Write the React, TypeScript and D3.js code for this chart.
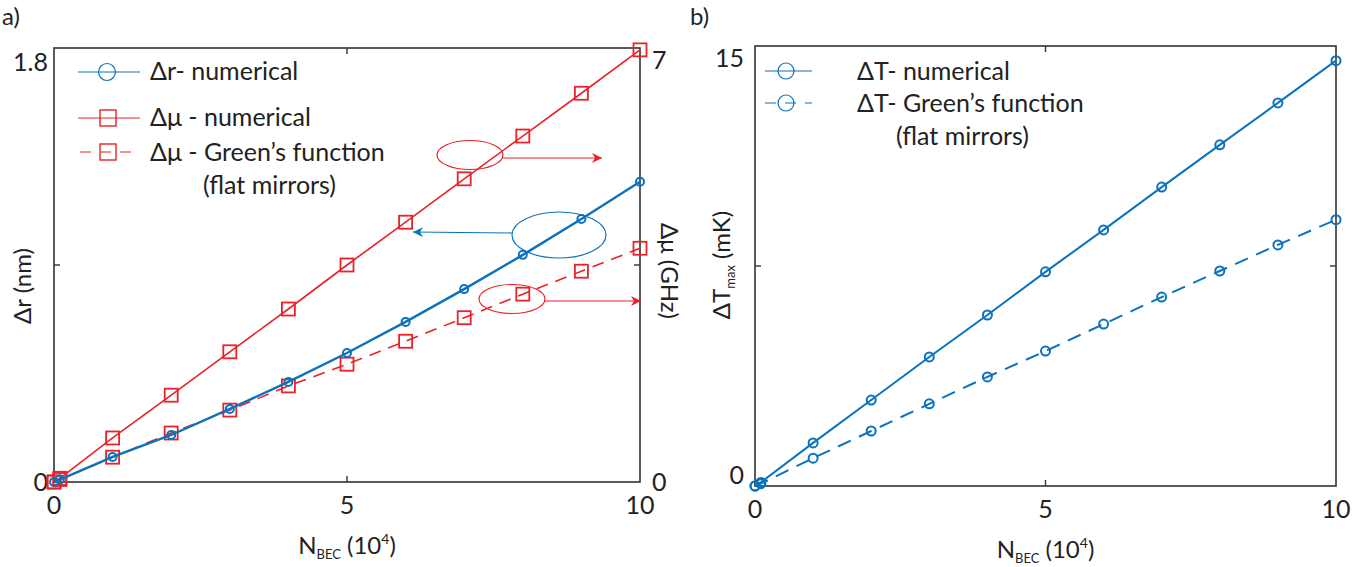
import React from "react";
import * as d3 from "d3";

// N_BEC in units of 10^4
const nBec = [0, 0.1, 1, 2, 3, 4, 5, 6, 7, 8, 9, 10];

// panel a) : Δr (nm, left axis), Δμ (GHz, right axis)
const drNumerical = [0, 0.01, 0.104, 0.195, 0.303, 0.415, 0.535, 0.664, 0.8, 0.942, 1.091, 1.245];
const dmuNumerical = [0, 0.06, 0.71, 1.4, 2.1, 2.79, 3.5, 4.19, 4.89, 5.58, 6.27, 6.97];
const dmuGreen = [0, 0.04, 0.4, 0.79, 1.16, 1.55, 1.9, 2.27, 2.65, 3.03, 3.4, 3.77];

// panel b) : ΔT_max (mK)
const dtNumerical = [0, 0.12, 1.47, 2.93, 4.4, 5.83, 7.3, 8.73, 10.19, 11.63, 13.06, 14.5];
const dtGreen = [0, 0.08, 0.95, 1.875, 2.8, 3.72, 4.6, 5.52, 6.44, 7.33, 8.22, 9.08];

const xTicks = [0, 5, 10];
const drTicks = [0, 0.9, 1.8];
const dmuTicks = [0, 3.5, 7];
const dtTicks = [0, 7.5, 15];

const BLUE = "#0b72bd";
const RED = "#ec2128";
const AXIS = "#333";
const FONT = "Lato, 'Open Sans', sans-serif";
const TICK_FS = 25;

const fmt = (v: number) => (v === 1.8 ? "1.8" : String(v));

const App = () => {
  // panel a scales
  const xa = d3.scaleLinear().domain([0, 10]).range([54, 640]);
  const ya = d3.scaleLinear().domain([0, 1.8]).range([482, 48]);
  const yaR = d3.scaleLinear().domain([0, 7]).range([482, 48]);
  // panel b scales
  const xb = d3.scaleLinear().domain([0, 10]).range([755, 1336]);
  const yb = d3.scaleLinear().domain([0, 15]).range([486, 46]);

  const lineOf = (xs: d3.ScaleLinear<number, number>, ys: d3.ScaleLinear<number, number>, vals: number[]) =>
    d3.line<number>().x((_, i) => xs(nBec[i])).y((d) => ys(d))(vals) || "";

  const frame = (xs: d3.ScaleLinear<number, number>, ys: d3.ScaleLinear<number, number>, midY: number) => {
    const [l, r] = xs.range();
    const [b, t] = ys.range();
    return (
      <g>
        <rect x={l} y={t} width={r - l} height={b - t} fill="none" stroke={AXIS} strokeWidth={1.6} />
        <line x1={xs(5)} x2={xs(5)} y1={b} y2={b - 6} stroke={AXIS} strokeWidth={1.4} />
        <line x1={xs(5)} x2={xs(5)} y1={t} y2={t + 6} stroke={AXIS} strokeWidth={1.4} />
        <line x1={l} x2={l + 6} y1={ys(midY)} y2={ys(midY)} stroke={AXIS} strokeWidth={1.4} />
        <line x1={r} x2={r - 6} y1={ys(midY)} y2={ys(midY)} stroke={AXIS} strokeWidth={1.4} />
        {xTicks.map((v) => (
          <text key={v} x={xs(v)} y={b + 32} textAnchor="middle" fontSize={TICK_FS} fill="#222">
            {v}
          </text>
        ))}
        <text x={(l + r) / 2} y={b + 72} textAnchor="middle" fontSize={24} fill="#222">
          N<tspan fontSize={13} dy={5}>BEC</tspan>
          <tspan dy={-5}> (10</tspan>
          <tspan fontSize={14} dy={-10}>4</tspan>
          <tspan dy={10}>)</tspan>
        </text>
      </g>
    );
  };

  const circles = (xs: d3.ScaleLinear<number, number>, ys: d3.ScaleLinear<number, number>, vals: number[], r: number) =>
    vals.map((v, i) => (
      <circle key={i} cx={xs(nBec[i])} cy={ys(v)} r={r} fill="none" stroke={BLUE} strokeWidth={2} />
    ));

  const squares = (vals: number[]) =>
    vals.map((v, i) => (
      <rect key={i} x={xa(nBec[i]) - 6.5} y={yaR(v) - 6.5} width={13} height={13} fill="none" stroke={RED} strokeWidth={1.8} />
    ));

  return (
    <svg width={1371} height={567} style={{ position: "absolute", left: 0, top: 0 }} fontFamily={FONT}>
      <defs>
        <marker id="arR" viewBox="0 0 10 10" refX={10} refY={5} markerWidth={10} markerHeight={10} markerUnits="userSpaceOnUse" orient="auto">
          <path d="M0,0 L10,5 L0,10 L3,5 Z" fill={RED} />
        </marker>
        <marker id="arB" viewBox="0 0 10 10" refX={10} refY={5} markerWidth={10} markerHeight={10} markerUnits="userSpaceOnUse" orient="auto">
          <path d="M0,0 L10,5 L0,10 L3,5 Z" fill={BLUE} />
        </marker>
      </defs>
      <rect width={1371} height={567} fill="#fff" />

      {/* panel a */}
      <text x={2} y={25} fontSize={24} fill="#222">a)</text>
      {frame(xa, ya, 0.9)}
      {drTicks.filter((v) => v !== 0.9).map((v) => (
        <text key={v} x={48} y={ya(v) + (v === 0 ? 9 : 23)} textAnchor="end" fontSize={TICK_FS} fill="#222">
          {fmt(v)}
        </text>
      ))}
      {dmuTicks.filter((v) => v !== 3.5).map((v) => (
        <text key={v} x={652} y={yaR(v) + (v === 0 ? 9 : 21)} textAnchor="start" fontSize={TICK_FS} fill="#222">
          {v}
        </text>
      ))}
      <text transform="translate(31,286) rotate(-90)" textAnchor="middle" fontSize={24} fill="#222">Δr (nm)</text>
      <text transform="translate(661,271) rotate(90)" textAnchor="middle" fontSize={24} fill="#222">Δμ (GHz)</text>

      <path d={lineOf(xa, yaR, dmuGreen)} fill="none" stroke={RED} strokeWidth={1.6} strokeDasharray="12 8" />
      {squares(dmuGreen)}
      <path d={lineOf(xa, yaR, dmuNumerical)} fill="none" stroke={RED} strokeWidth={1.6} />
      {squares(dmuNumerical)}
      <path d={lineOf(xa, ya, drNumerical)} fill="none" stroke={BLUE} strokeWidth={2.4} />
      {circles(xa, ya, drNumerical, 4)}

      {/* annotations */}
      <ellipse cx={470} cy={155} rx={33} ry={14.5} fill="none" stroke={RED} strokeWidth={1.2} />
      <line x1={503} y1={158} x2={602} y2={158} stroke={RED} strokeWidth={1.2} markerEnd="url(#arR)" />
      <ellipse cx={559} cy={235} rx={47} ry={23} fill="none" stroke={BLUE} strokeWidth={1.2} />
      <line x1={512} y1={233} x2={413} y2={232} stroke={BLUE} strokeWidth={1.2} markerEnd="url(#arB)" />
      <ellipse cx={512} cy={299} rx={33} ry={14.5} fill="none" stroke={RED} strokeWidth={1.2} />
      <line x1={545} y1={301} x2={641} y2={301} stroke={RED} strokeWidth={1.2} markerEnd="url(#arR)" />

      {/* legend a */}
      <g fontSize={25} fill="#222">
        <line x1={78} x2={140} y1={72} y2={72} stroke={BLUE} strokeWidth={1.2} />
        <circle cx={107} cy={72} r={8.5} fill="none" stroke={BLUE} strokeWidth={1.2} />
        <text x={150} y={80}>Δr- numerical</text>
        <line x1={78} x2={140} y1={118} y2={118} stroke={RED} strokeWidth={1.2} />
        <rect x={100} y={110} width={16} height={16} fill="none" stroke={RED} strokeWidth={1.4} />
        <text x={150} y={126}>Δμ - numerical</text>
        <line x1={78} x2={140} y1={152} y2={152} stroke={RED} strokeWidth={1.2} strokeDasharray="11 9" strokeDashoffset={-2} />
        <rect x={100} y={144} width={16} height={16} fill="none" stroke={RED} strokeWidth={1.4} />
        <text x={150} y={161}>Δμ - Green’s function</text>
        <text x={203} y={194}>(flat mirrors)</text>
      </g>

      {/* panel b */}
      <text x={690} y={25} fontSize={24} fill="#222">b)</text>
      {frame(xb, yb, 7.5)}
      {dtTicks.filter((v) => v !== 7.5).map((v) => (
        <text key={v} x={744} y={yb(v) + (v === 0 ? -2 : 21)} textAnchor="end" fontSize={TICK_FS} fill="#222">
          {v}
        </text>
      ))}
      <text transform="translate(730,265) rotate(-90)" textAnchor="middle" fontSize={24} fill="#222">
        ΔT<tspan fontSize={13} dy={5}>max</tspan>
        <tspan dy={-5}> (mK)</tspan>
      </text>

      <path d={lineOf(xb, yb, dtGreen)} fill="none" stroke={BLUE} strokeWidth={2} strokeDasharray="14 9" />
      {circles(xb, yb, dtGreen, 4.5)}
      <path d={lineOf(xb, yb, dtNumerical)} fill="none" stroke={BLUE} strokeWidth={2} />
      {circles(xb, yb, dtNumerical, 4.5)}

      {/* legend b */}
      <g fontSize={25} fill="#222">
        <line x1={765} x2={812} y1={71} y2={71} stroke={BLUE} strokeWidth={1.2} />
        <circle cx={786} cy={71} r={8} fill="none" stroke={BLUE} strokeWidth={1.2} />
        <text x={857} y={80}>ΔT- numerical</text>
        <line x1={765} x2={812} y1={103} y2={103} stroke={BLUE} strokeWidth={1.2} strokeDasharray="11 9" />
        <circle cx={786} cy={103} r={8} fill="none" stroke={BLUE} strokeWidth={1.2} />
        <text x={857} y={112}>ΔT- Green’s function</text>
        <text x={896} y={145}>(flat mirrors)</text>
      </g>
    </svg>
  );
};

export default App;
